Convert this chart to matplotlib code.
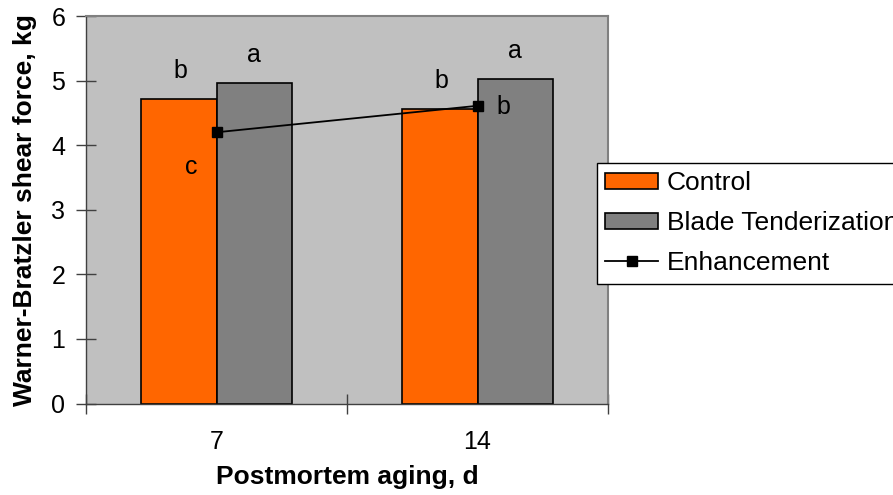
import numpy as np
import matplotlib.pyplot as plt

plt.rcParams['font.family'] = ['Liberation Sans', 'DejaVu Sans']

aging_days = ['7', '14']
control = [4.71, 4.56]
blade = [4.96, 5.02]
enhancement = [4.20, 4.61]

# mean separation letters
control_letters = ['b', 'b']
blade_letters = ['a', 'a']
enhancement_letters = ['c', 'b']

orange = '#FF6600'
grey = '#808080'
fs = 18

fig = plt.figure(figsize=(8.93, 4.95), dpi=100)
ax = fig.add_axes([86 / 893, 1 - 403.6 / 495, 522 / 893, 387.6 / 495])
ax.set_facecolor('#C0C0C0')

x = np.arange(len(aging_days)) + 0.5
w = 0.29
b1 = ax.bar(x - w / 2, control, w, color=orange, edgecolor='black', linewidth=1.2, label='Control', zorder=2)
b2 = ax.bar(x + w / 2, blade, w, color=grey, edgecolor='black', linewidth=1.2, label='Blade Tenderization', zorder=2)
ln, = ax.plot(x, enhancement, color='black', linewidth=1.3, marker='s', markersize=7,
              label='Enhancement', zorder=3)

for i in range(len(x)):
    ax.text(x[i] - w / 2 + 0.005, control[i] + 0.44, control_letters[i], ha='center', va='center', fontsize=fs)
    ax.text(x[i] + w / 2, blade[i] + 0.44, blade_letters[i], ha='center', va='center', fontsize=fs)
ax.text(x[0] - 0.098, enhancement[0] - 0.54, enhancement_letters[0], ha='center', va='center', fontsize=fs)
ax.text(x[1] + 0.098, enhancement[1] - 0.02, enhancement_letters[1], ha='center', va='center', fontsize=fs)

ax.set_xlim(0, 2)
ax.set_ylim(0, 6)
ax.set_yticks(range(0, 7))
ax.set_xticks([0, 1, 2])
ax.set_xticklabels([])
ax.set_xticks(x, minor=True)
ax.set_xticklabels(aging_days, minor=True, fontsize=fs)
ax.tick_params(axis='x', which='minor', length=0, pad=19)
ax.tick_params(axis='x', which='major', direction='inout', length=14, width=1, color='#404040')
ax.tick_params(axis='y', direction='inout', length=14, width=1, color='#404040', labelsize=fs, pad=8)

for side in ['top', 'right']:
    ax.spines[side].set_color('#808080')
    ax.spines[side].set_linewidth(1.5)
for side in ['left', 'bottom']:
    ax.spines[side].set_color('#404040')
    ax.spines[side].set_linewidth(1)

ax.set_xlabel('Postmortem aging, d', fontsize=19, fontweight='bold')
ax.set_ylabel('Warner-Bratzler shear force, kg', fontsize=19, fontweight='bold')
ax.xaxis.set_label_coords(0.5, -0.189)
ax.yaxis.set_label_coords(-0.117, 0.5)
ax.xaxis.label.set_va('center')
ax.yaxis.label.set_va('center')

leg = fig.legend(handles=[b1, b2, ln], loc='upper left',
                 bbox_to_anchor=(597 / 893, 1 - 163 / 495), fontsize=19,
                 frameon=True, fancybox=False, edgecolor='black', framealpha=1,
                 handlelength=2.0, handleheight=0.58, handletextpad=0.33,
                 labelspacing=0.6, borderpad=0.32, borderaxespad=0)
leg.get_frame().set_linewidth(1)

fig.savefig('out.png', dpi=100)
